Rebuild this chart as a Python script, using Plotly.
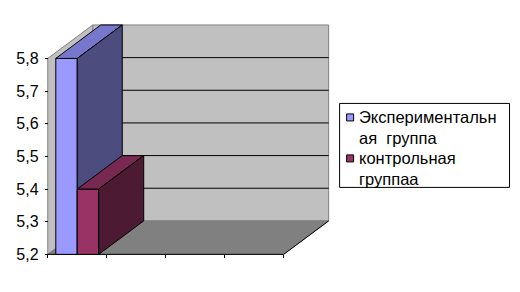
import plotly.graph_objects as go

# ---- data ----
series_names = ["Экспериментальная  группа", "контрольная группаа"]
legend_lines = [["Экспериментальн", "ая  группа"], ["контрольная", "группаа"]]
values = [5.8, 5.4]
category_slots = [0, 1, 2, 3, 4]          # category boundaries on the x axis
y_ticks = [5.2, 5.3, 5.4, 5.5, 5.6, 5.7, 5.8]
y_tick_labels = ["5,2", "5,3", "5,4", "5,5", "5,6", "5,7", "5,8"]

# ---- style ----
front_colors = ["#9999FF", "#993366"]
top_colors = ["#7777CC", "#772952"]
side_colors = ["#4C4C7F", "#4C1A33"]
WALL = "#C0C0C0"
FLOOR = "#808080"
FONT = "Liberation Sans, Arial, sans-serif"

BASE = y_ticks[0]
TOP = y_ticks[-1]
DX = 0.763     # depth offset in x units
DY = 0.1025    # depth offset in value units
GAP = 0.136    # gap on each side of the bar group inside a category
XMIN, XMAX = -0.03, category_slots[-1] + DX + 0.04
YMIN, YMAX = BASE - 0.005, TOP + DY + 0.006

PX_X = 59.0
PX_Y = 326.7
W, H = 520, 292
L = 48 - (0 - XMIN) * PX_X
PW = (XMAX - XMIN) * PX_X
B = 292 - 254 - (BASE - YMIN) * PX_Y
PH = (YMAX - YMIN) * PX_Y
T = H - B - PH
R = W - L - PW

fig = go.Figure()


def poly(xs, ys, fill, line="black", lw=1):
    fig.add_trace(go.Scatter(
        x=list(xs) + [xs[0]], y=list(ys) + [ys[0]], mode="lines",
        fill="toself", fillcolor=fill,
        line=dict(color=line, width=lw), hoverinfo="skip", showlegend=False))


def seg(xs, ys, color="black", lw=1):
    fig.add_trace(go.Scatter(x=xs, y=ys, mode="lines",
                             line=dict(color=color, width=lw),
                             hoverinfo="skip", showlegend=False))


x_end = category_slots[-1]
# back wall
poly([DX, x_end + DX, x_end + DX, DX], [BASE + DY, BASE + DY, TOP + DY, TOP + DY], WALL, "#808080")
# left wall
poly([0, DX, DX, 0], [BASE, BASE + DY, TOP + DY, TOP], WALL, "#808080")
# floor
poly([0, x_end, x_end + DX, DX], [BASE, BASE, BASE + DY, BASE + DY], FLOOR, FLOOR)
seg([0, x_end, x_end + DX], [BASE, BASE, BASE + DY])
# gridlines on the back wall
for v in y_ticks[1:-1]:
    seg([DX, x_end + DX], [v + DY, v + DY])

# bars (3D boxes)
bw = (1 - 2 * GAP) / len(values)
for i, v in enumerate(values):
    x0 = GAP + i * bw
    x1 = x0 + bw
    poly([x0, x1, x1, x0], [BASE, BASE, v, v], front_colors[i])
    poly([x0, x1, x1 + DX, x0 + DX], [v, v, v + DY, v + DY], top_colors[i])
    poly([x1, x1 + DX, x1 + DX, x1], [BASE, BASE + DY, v + DY, v], side_colors[i])


def pxx(px):
    return (px - L) / PW


def pxy(py):
    return (H - B - py) / PH


shapes = [dict(type="rect", xref="paper", yref="paper",
               x0=pxx(340), x1=pxx(510), y0=pxy(187), y1=pxy(103),
               line=dict(color="black", width=1), fillcolor="white", layer="above")]
annotations = []
entry_centers = [117, 158]
LINE_H = 20.5
for i, lines in enumerate(legend_lines):
    cy = entry_centers[i]
    shapes.append(dict(type="rect", xref="paper", yref="paper",
                       x0=pxx(347), x1=pxx(354), y0=pxy(cy + 3.5), y1=pxy(cy - 3.5),
                       line=dict(color="black", width=1), fillcolor=front_colors[i],
                       layer="above"))
    for j, txt in enumerate(lines):
        annotations.append(dict(xref="paper", yref="paper", x=pxx(357),
                                y=pxy(cy + j * LINE_H),
                                xanchor="left", yanchor="middle", align="left",
                                showarrow=False, text=txt,
                                font=dict(family=FONT, size=16.5, color="black")))

fig.update_layout(
    width=W, height=H, margin=dict(l=L, r=R, t=T, b=B, pad=0),
    paper_bgcolor="white", plot_bgcolor="white", showlegend=False,
    shapes=shapes, annotations=annotations,
    xaxis=dict(range=[XMIN, XMAX], tickvals=category_slots, showticklabels=False,
               ticks="outside", ticklen=3, tickcolor="black", showgrid=False,
               zeroline=False, showline=False, anchor="free",
               position=(BASE - YMIN) / (YMAX - YMIN), fixedrange=True),
    yaxis=dict(range=[YMIN, YMAX], tickvals=y_ticks, ticktext=y_tick_labels,
               ticks="outside", ticklen=3, tickcolor="black", showgrid=False,
               zeroline=False, showline=False, anchor="free",
               position=(0 - XMIN) / (XMAX - XMIN), ticklabelstandoff=3,
               tickfont=dict(family=FONT, size=16, color="black"), fixedrange=True),
)

fig.write_html("out.html", config={"displayModeBar": False})
